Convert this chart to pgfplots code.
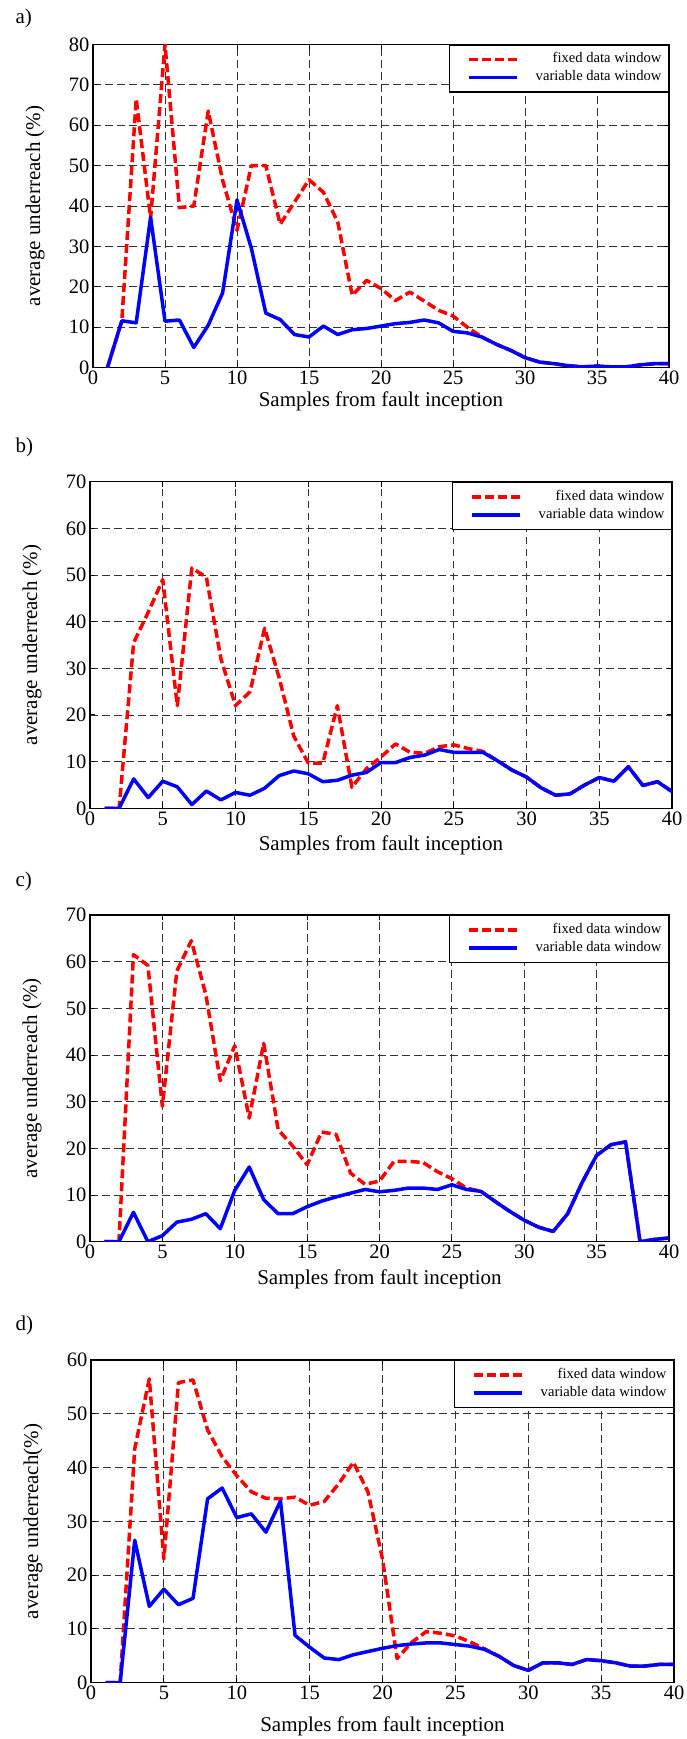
\documentclass[border=0pt]{standalone}
\usepackage{pgfplots}
\pgfplotsset{compat=1.18}
\usepackage{fontspec}
\setmainfont{Liberation Serif}
\newfontfamily\lser{Liberation Serif}
\definecolor{mred}{rgb}{1,0,0}
\definecolor{mblue}{rgb}{0,0,1}
\pgfplotsset{
  panel/.style={
    scale only axis,
    xmin=0, xmax=40, ymin=0,
    xtick={0,5,...,40},
    ytick distance=10,
    grid=major,
    major grid style={black!80, line width=0.9pt, dash pattern=on 7.5pt off 4.5pt},
    axis line style={black, line width=1.2pt},
    tick style={black, line width=1pt},
    major tick length=5pt,
    tick align=inside,
    /pgf/number format/assume math mode=true,
    tick label style={font=\lser\fontsize{20.5}{24}\selectfont},
    label style={font=\lser\fontsize{21}{25}\selectfont},
    xlabel={Samples from fault inception},
    ylabel style={at={([xshift=-58pt]axis description cs:0,0.5)}, anchor=center},
    legend cell align=right,
    legend image code/.code={\path (0pt,0pt); \draw[##1] (13pt,0pt) -- (61pt,0pt);},
    legend style={at={(1,1)}, anchor=north east, draw=black, line width=1.2pt, fill=white,
      font=\lser\fontsize{14.6}{17.5}\selectfont, inner xsep=5pt, inner ysep=6pt,
      column sep=15pt, row sep=1pt,
      nodes={inner sep=2pt, text height=10pt, text depth=3pt}},
  },
  fixedp/.style={mred, line width=3.5pt, line join=round, dash pattern=on 9pt off 4pt},
  varp/.style={mblue, line width=3.5pt, line join=round},
}
\begin{document}
\begin{tikzpicture}
\useasboundingbox (0pt,0pt) rectangle (687pt,-1739pt);

% ---------- b) ----------
\node[anchor=base west, font=\lser\fontsize{21}{25}\selectfont] at (12pt,-452pt) {b)};
\begin{axis}[panel, at={(90pt,-808.3pt)}, anchor=south west,
  width=582pt, height=326.6pt, ymax=70,
  ylabel={average underreach (\%)},
  xlabel style={at={([yshift=-37pt]axis description cs:0.5,0)}, anchor=center}]
\addplot[fixedp] coordinates {(1,0)(2,0)(3,35.5)(4,42)(5,49)(6,22)(7,51.5)(8,49.5)(9,32)(10,22)(11,25)(12,38.6)(13,28)(14,15.5)(15,9.7)(16,9.7)(17,22)(18,4.5)(19,8.5)(20,11)(21,13.8)(22,12)(23,11.8)(24,13.2)(25,13.6)(26,12.8)(27,12.2)(28,10.2)(29,8.2)(30,6.7)(31,4.4)(32,2.8)(33,3.1)(34,5)(35,6.6)(36,5.8)(37,8.9)(38,4.9)(39,5.7)(40,3.6)};
\addlegendentry{fixed data window}
\addplot[varp] coordinates {(1,0)(2,0)(3,6.3)(4,2.3)(5,5.8)(6,4.6)(7,0.8)(8,3.7)(9,1.8)(10,3.4)(11,2.8)(12,4.3)(13,7)(14,8)(15,7.4)(16,5.7)(17,6)(18,7.1)(19,7.7)(20,9.8)(21,9.8)(22,10.9)(23,11.4)(24,12.6)(25,12)(26,12)(27,12)(28,10.2)(29,8.2)(30,6.7)(31,4.4)(32,2.8)(33,3.1)(34,5)(35,6.6)(36,5.8)(37,8.9)(38,4.9)(39,5.7)(40,3.6)};
\addlegendentry{variable data window}
\end{axis}

% ---------- a) ----------
\node[anchor=base west, font=\lser\fontsize{21}{25}\selectfont] at (12pt,-24pt) {a)};
\begin{axis}[panel, at={(93pt,-367.7pt)}, anchor=south west,
  width=576pt, height=323.4pt, ymax=80,
  ylabel={average underreach (\%)},
  xlabel style={at={([yshift=-34pt]axis description cs:0.5,0)}, anchor=center}]
\addplot[fixedp] coordinates {(1,0)(2,11.5)(3,66.5)(4,37)(5,80)(6,39.6)(7,40)(8,63.5)(9,46.4)(10,34)(11,50)(12,50)(13,35.5)(14,41)(15,46.5)(16,43.4)(17,36)(18,17.9)(19,21.6)(20,19.6)(21,16.6)(22,18.7)(23,16.5)(24,14.2)(25,12.8)(26,10)(27,7.6)(28,5.8)(29,4.3)(30,2.5)(31,1.4)(32,1)(33,0.5)(34,0.2)(35,0.4)(36,0.2)(37,0.2)(38,0.7)(39,1)(40,1)};
\addlegendentry{fixed data window}
\addplot[varp] coordinates {(1,0)(2,11.6)(3,11.1)(4,37.2)(5,11.5)(6,11.8)(7,5)(8,10.5)(9,18.5)(10,41.5)(11,29.5)(12,13.5)(13,11.9)(14,8.2)(15,7.6)(16,10.3)(17,8.2)(18,9.4)(19,9.7)(20,10.3)(21,10.9)(22,11.2)(23,11.8)(24,11.1)(25,9)(26,8.6)(27,7.6)(28,5.8)(29,4.3)(30,2.5)(31,1.4)(32,1)(33,0.5)(34,0.2)(35,0.4)(36,0.2)(37,0.2)(38,0.7)(39,1)(40,1)};
\addlegendentry{variable data window}
\end{axis}

% ---------- c) ----------
\node[anchor=base west, font=\lser\fontsize{21}{25}\selectfont] at (12pt,-886pt) {c)};
\begin{axis}[panel, at={(90pt,-1241.7pt)}, anchor=south west,
  width=579pt, height=326.7pt, ymax=70,
  ylabel={average underreach (\%)},
  xlabel style={at={([yshift=-38pt]axis description cs:0.5,0)}, anchor=center}]
\addplot[fixedp] coordinates {(1,0)(2,0)(3,61.5)(4,59.2)(5,29)(6,58)(7,64.5)(8,53)(9,34.5)(10,42)(11,26.5)(12,42.5)(13,24)(14,20.5)(15,16.5)(16,23.5)(17,23)(18,14.7)(19,12.3)(20,13)(21,17.2)(22,17.2)(23,17)(24,15)(25,13.5)(26,11.5)(27,10.8)(28,8.6)(29,6.5)(30,4.6)(31,3.1)(32,2.2)(33,6)(34,12.7)(35,18.5)(36,20.8)(37,21.4)(38,0)(39,0.5)(40,0.8)};
\addlegendentry{fixed data window}
\addplot[varp] coordinates {(1,0)(2,0)(3,6.3)(4,0)(5,1.3)(6,4.2)(7,4.8)(8,6)(9,2.8)(10,11)(11,16)(12,9)(13,6)(14,6)(15,7.5)(16,8.7)(17,9.6)(18,10.4)(19,11.2)(20,10.7)(21,11)(22,11.5)(23,11.5)(24,11.2)(25,12.2)(26,11.2)(27,10.8)(28,8.6)(29,6.5)(30,4.6)(31,3.1)(32,2.2)(33,6)(34,12.7)(35,18.5)(36,20.8)(37,21.4)(38,0)(39,0.5)(40,0.8)};
\addlegendentry{variable data window}
\end{axis}

% ---------- d) ----------
\node[anchor=base west, font=\lser\fontsize{21}{25}\selectfont] at (12pt,-1330pt) {d)};
\begin{axis}[panel, at={(91pt,-1682.7pt)}, anchor=south west,
  width=583pt, height=322.7pt, ymax=60,
  ylabel={average underreach(\%)},
  xlabel style={at={([yshift=-44pt]axis description cs:0.5,0)}, anchor=center}]
\addplot[fixedp] coordinates {(1,0)(2,0)(3,43.5)(4,56.5)(5,23)(6,55.8)(7,56.3)(8,47)(9,42)(10,38.5)(11,35.5)(12,34.3)(13,34.2)(14,34.5)(15,33)(16,33.7)(17,37)(18,41)(19,35.5)(20,23)(21,4.5)(22,7.5)(23,9.5)(24,9.2)(25,8.7)(26,7.6)(27,6.3)(28,4.9)(29,3.2)(30,2.3)(31,3.7)(32,3.7)(33,3.4)(34,4.3)(35,4.1)(36,3.7)(37,3.1)(38,3.1)(39,3.4)(40,3.4)};
\addlegendentry{fixed data window}
\addplot[varp] coordinates {(1,0)(2,0)(3,26.5)(4,14.2)(5,17.4)(6,14.5)(7,15.7)(8,34.2)(9,36.2)(10,30.7)(11,31.4)(12,28)(13,33.8)(14,8.8)(15,6.6)(16,4.6)(17,4.3)(18,5.2)(19,5.8)(20,6.4)(21,6.9)(22,7.2)(23,7.4)(24,7.4)(25,7.1)(26,6.8)(27,6.2)(28,4.9)(29,3.2)(30,2.3)(31,3.7)(32,3.7)(33,3.4)(34,4.3)(35,4.1)(36,3.7)(37,3.1)(38,3.1)(39,3.4)(40,3.4)};
\addlegendentry{variable data window}
\end{axis}
\end{tikzpicture}
\end{document}
